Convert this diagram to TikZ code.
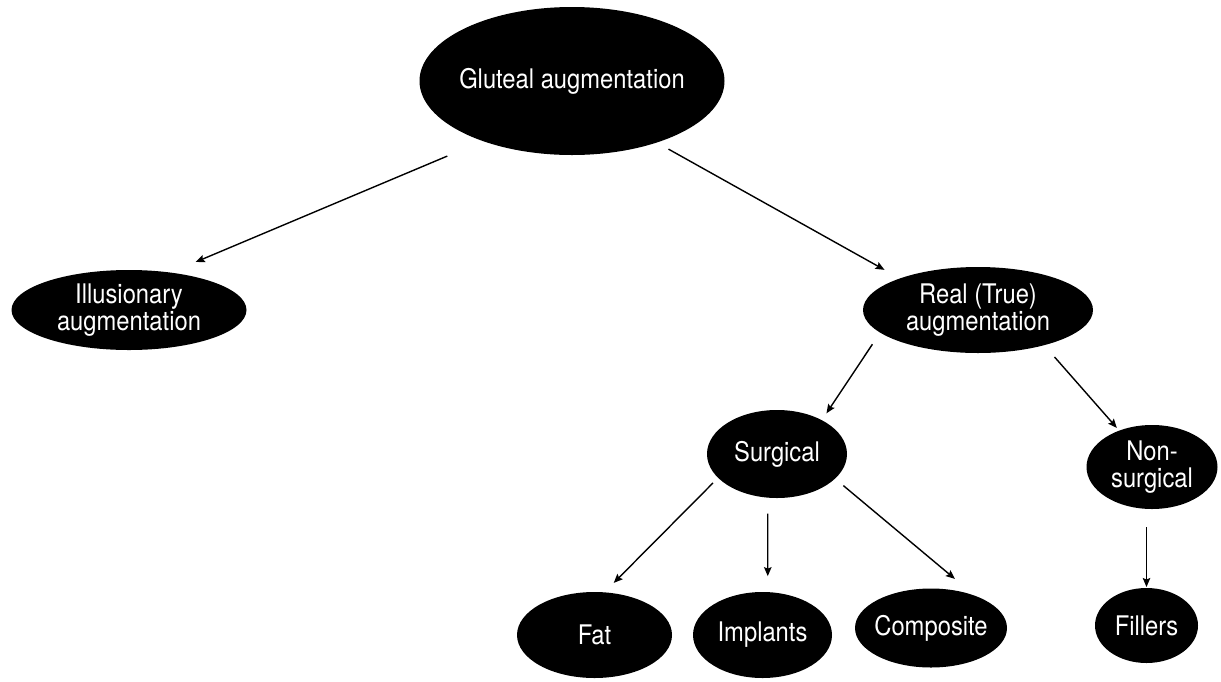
\documentclass[tikz,border=0pt]{standalone}
\usepackage{fontspec}
\setmainfont{TeX Gyre Heros}[FakeStretch=0.88]
\usetikzlibrary{arrows.meta,shapes.geometric}

\tikzset{
  blob/.style = {ellipse, fill=black, text=white,
                 inner xsep=-8pt, inner ysep=0pt, outer sep=0pt,
                 align=center, font=\fontsize{27}{27}\selectfont},
  arr/.style  = {line width=1.4pt, -{Stealth[length=9pt,width=7.5pt,inset=1.5pt]}}
}

\begin{document}
\begin{tikzpicture}[x=1pt, y=-1pt]

\useasboundingbox (0,0) rectangle (1221,681);

% level 0
\node[blob, minimum width=305pt, minimum height=148pt] (glut) at (572,81) {Gluteal augmentation};

% level 1
\node[blob, minimum width=235pt, minimum height=80pt] (illus) at (129,310) {Illusionary\\augmentation};
\node[blob, minimum width=230pt, minimum height=86pt] (real) at (978,310) {Real (True)\\augmentation};

% level 2
\node[blob, minimum width=140pt, minimum height=88pt] (surg) at (777,454) {Surgical};
\node[blob, minimum width=131pt, minimum height=84pt] (nonsurg) at (1152,467) {Non-\\surgical};

% level 3
\node[blob, minimum width=155pt, minimum height=86pt] (fat) at (594.5,635) {Fat};
\node[blob, minimum width=139pt, minimum height=86pt] (impl) at (762.5,635) {Implants};
\node[blob, minimum width=152pt, minimum height=79pt] (comp) at (931,628) {Composite};
\node[blob, minimum width=103pt, minimum height=75pt] (fill) at (1146.5,625.5) {Fillers};

% arrows
\draw[arr, shorten <=38.7pt, shorten >=27.3pt] (glut.214) -- (illus.42);
\draw[arr, shorten <=13.5pt, shorten >=17.6pt] (glut.-36) -- (real.158);

\draw[arr, shorten <=14pt, shorten >=8.3pt] (real.193) -- (surg.37.5);
\draw[arr, shorten <=15.7pt, shorten >=3.6pt] (real.-28) -- (nonsurg.132);

\draw[arr, shorten <=7.3pt, shorten >=13.3pt] (surg.202) -- (fat.77);
\draw[arr, shorten <=16pt, shorten >=16pt] (surg.258) -- (impl.83);
\draw[arr, shorten <=10.9pt, shorten >=26.5pt] (surg.-23.5) -- (comp.36);
\draw[arr, shorten <=18pt, shorten >=1pt] (fill.north |- nonsurg.south) -- (fill.north);

\end{tikzpicture}
\end{document}
